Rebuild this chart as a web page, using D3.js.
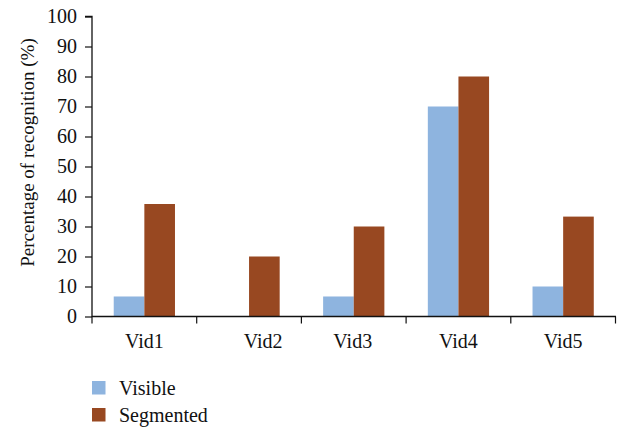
<!DOCTYPE html>
<html>
<head>
<meta charset="utf-8">
<script src="https://cdn.jsdelivr.net/npm/d3@7"></script>
<style>
  html, body { margin: 0; padding: 0; background: #fff; }
  svg text { font-family: "Liberation Serif", "DejaVu Serif", serif; fill: #111; }
</style>
</head>
<body>
<svg id="chart" width="626" height="430"></svg>
<script>
// Recognition rate per video, for visible and segmented input
const categories = ["Vid1", "Vid2", "Vid3", "Vid4", "Vid5"];
const seriesNames = ["Visible", "Segmented"];
const visibleValues = [6.67, 0, 6.67, 70, 10];
const segmentedValues = [37.5, 20, 30, 80, 33.3];
const yTicks = [0, 10, 20, 30, 40, 50, 60, 70, 80, 90, 100];
const colors = ["#8eb4df", "#984821"];

const svg = d3.select("#chart");
const margin = { left: 92, top: 16.5 };
const plotRight = 615.5;
const plotBottom = 316.5;

const x = d3.scaleBand()
  .domain(categories)
  .range([margin.left, plotRight])
  .paddingInner(0.415)
  .paddingOuter(0.2075);

const xOuter = d3.scaleBand().domain(categories).range([margin.left, plotRight]);

const inner = d3.scaleBand()
  .domain(seriesNames)
  .range([0, x.bandwidth()]);

const y = d3.scaleLinear().domain([0, 100]).range([plotBottom, margin.top]);

const rows = categories.map((c, i) => ({
  cat: c,
  vals: [visibleValues[i], segmentedValues[i]]
}));

// bars
const g = svg.append("g");
rows.forEach(r => {
  r.vals.forEach((v, j) => {
    if (v <= 0) return;
    g.append("rect")
      .attr("x", x(r.cat) + inner(seriesNames[j]))
      .attr("y", y(v))
      .attr("width", inner.bandwidth())
      .attr("height", plotBottom - y(v))
      .attr("fill", colors[j]);
  });
});

// y axis
const yAxis = d3.axisLeft(y).tickValues(yTicks).tickSize(7).tickPadding(8);
const ya = svg.append("g").attr("transform", `translate(${margin.left},0)`).call(yAxis);
ya.select(".domain").attr("stroke", "#111").attr("stroke-width", 1.3)
  .attr("d", `M-7,${y(100)}H0V${plotBottom + 0.5}`);
ya.selectAll(".tick line").attr("stroke", "#111").attr("stroke-width", 1.2);
ya.selectAll(".tick text").style("font-size", "20px")
  .style("font-family", '"Liberation Serif", serif').attr("fill", "#111");

// x axis with ticks at band boundaries
const xa = svg.append("g").attr("transform", `translate(0,${plotBottom})`);
xa.append("line").attr("x1", margin.left).attr("x2", plotRight + 0.5)
  .attr("y1", 0).attr("y2", 0).attr("stroke", "#111").attr("stroke-width", 1.3);
const bounds = categories.map(c => xOuter(c)).concat([plotRight]);
xa.selectAll("line.tk").data(bounds).enter().append("line")
  .attr("class", "tk")
  .attr("x1", d => d).attr("x2", d => d)
  .attr("y1", 0).attr("y2", 7)
  .attr("stroke", "#111").attr("stroke-width", 1.2);
const labelShift = { Vid2: 14, Vid3: -1 };
xa.selectAll("text").data(categories).enter().append("text")
  .attr("x", d => x(d) + x.bandwidth() / 2 + (labelShift[d] || 0))
  .attr("y", 31.5)
  .attr("text-anchor", "middle")
  .style("font-size", "20px")
  .text(d => d);

// y axis title
svg.append("text")
  .attr("transform", `translate(34,152.5) rotate(-90)`)
  .attr("text-anchor", "middle")
  .style("font-size", "19px")
  .text("Percentage of recognition (%)");

// legend
const leg = svg.append("g");
seriesNames.forEach((s, i) => {
  const ly = 381 + i * 27;
  leg.append("rect").attr("x", 92).attr("y", ly).attr("width", 13.5).attr("height", 13.5)
    .attr("fill", colors[i]);
  leg.append("text").attr("x", 119).attr("y", ly + 13.5)
    .style("font-size", "20px").text(s);
});
</script>
</body>
</html>
